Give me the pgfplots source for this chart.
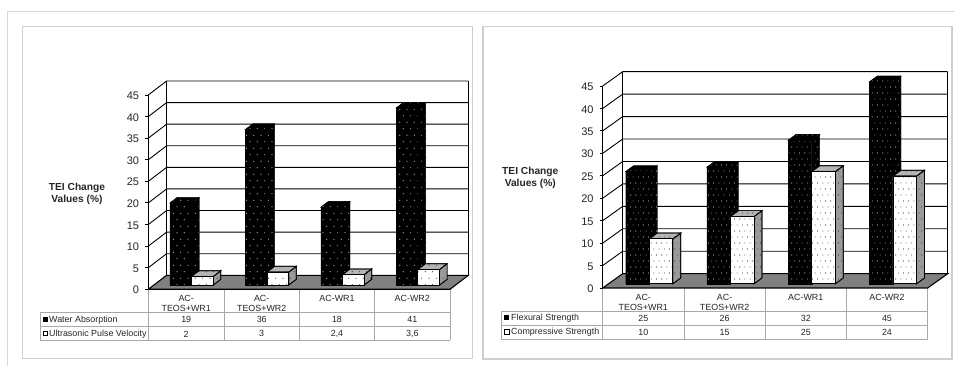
\documentclass[border=0pt]{standalone}
\usepackage{fontspec}
\setmainfont{Liberation Sans}
\usepackage{pgfplots}
\pgfplotsset{compat=1.18}
\usetikzlibrary{patterns}

% Staggered dot fills for the bar faces, one spacing for each chart
\pgfdeclarepatternformonly{dots wide}{\pgfqpoint{-1bp}{-1bp}}{\pgfqpoint{8.3bp}{14bp}}{\pgfqpoint{7.3bp}{13bp}}{%
  \pgfpathcircle{\pgfqpoint{1.8bp}{3.25bp}}{0.6bp}%
  \pgfpathcircle{\pgfqpoint{5.5bp}{9.75bp}}{0.6bp}%
  \pgfusepath{fill}}
\pgfdeclarepatternformonly{dots close}{\pgfqpoint{-1bp}{-1bp}}{\pgfqpoint{6.2bp}{13bp}}{\pgfqpoint{5.2bp}{12bp}}{%
  \pgfpathcircle{\pgfqpoint{1.3bp}{3bp}}{0.55bp}%
  \pgfpathcircle{\pgfqpoint{3.9bp}{9bp}}{0.55bp}%
  \pgfusepath{fill}}

\definecolor{floorgray}{HTML}{808080}
\definecolor{sidegray}{HTML}{9A9A9A}
\definecolor{topgray}{HTML}{B4B4B4}
\definecolor{framegray}{HTML}{CFCFCF}
\definecolor{rulegray}{HTML}{A8A8A8}
\definecolor{textgray}{HTML}{262626}

\tikzset{
  dotted face/.style={pattern=dots wide},
  darkface/.style={draw=black,fill=black,postaction={dotted face,pattern color=black!30}},
  whitefront/.style={draw=black,line width=0.9bp,fill=white,postaction={dotted face,pattern color=black!75}},
  whiteside/.style={draw=black,line width=0.7bp,fill=sidegray,postaction={dotted face,pattern color=black!75}},
  whitetop/.style={draw=black,line width=0.7bp,fill=topgray,postaction={dotted face,pattern color=black!75}},
}

% Right and top faces of one bar: style side, style top, left x, right x, value
\newcommand\BarFaces[5]{%
  \pgfmathsetmacro\xa{#3}\pgfmathsetmacro\xb{#4}%
  \pgfmathsetmacro\xc{#4+\bardx}\pgfmathsetmacro\xd{#3+\bardx}%
  \pgfmathsetmacro\yt{#5+\bardy}\pgfmathsetmacro\ye{\bardy}%
  \addplot[#1] coordinates {(\xb,0) (\xc,\ye) (\xc,\yt) (\xb,#5)} -- cycle;
  \addplot[#2] coordinates {(\xa,#5) (\xb,#5) (\xc,\yt) (\xd,\yt)} -- cycle;
}

% Walls, floor and grid of the box: depth in axis units as macros \walldx, \walldy
\newcommand\GridLine[1]{%
  \pgfmathsetmacro\ya{#1+\walldy}%
  \addplot[black,line width=0.9bp] coordinates {(-0.5,#1) (\wx,\ya) (\wr,\ya)};
}
\newcommand\BoxWalls{%
  \pgfmathsetmacro\wx{-0.5+\walldx}\pgfmathsetmacro\wr{3.5+\walldx}%
  \pgfmathsetmacro\wt{45+\walldy}%
  \addplot[draw=none,fill=floorgray] coordinates {(-0.5,0) (3.5,0) (\wr,\walldy) (\wx,\walldy)} -- cycle;
  \GridLine{5}\GridLine{10}\GridLine{15}\GridLine{20}\GridLine{25}
  \GridLine{30}\GridLine{35}\GridLine{40}\GridLine{45}
  \addplot[black,line width=0.9bp] coordinates {(\wx,\walldy) (\wx,\wt)};
  \addplot[black,line width=0.9bp] coordinates {(\wr,\walldy) (\wr,\wt)};
  \addplot[black,line width=1.1bp] coordinates {(-0.5,0) (3.5,0) (\wr,\walldy) (\wx,\walldy) (-0.5,0)};
}

\pgfplotsset{
  boxaxis/.style={
    scale only axis,clip=false,anchor=south west,
    xmin=-0.5,xmax=3.5,ymin=0,ymax=45,
  },
  wallaxis/.style={
    boxaxis,
    axis x line=none,axis y line*=left,axis line style={-,black,line width=0.9bp},
    xtick=\empty,ytick={0,5,...,45},
    tick style={black,line width=0.9bp},tick align=outside,major tick length=3bp,
    /pgf/number format/assume math mode=true,
    yticklabel style={font=\fontsize{11bp}{12bp}\selectfont,text=textgray,inner xsep=0pt,xshift=-6bp,yshift=-0.8bp},
  },
}

\newcommand\TableText[4][center]{\node[font=\fontsize{8.9bp}{10bp}\selectfont,text=textgray,anchor=#1,inner sep=0pt,yshift=-0.6bp] at (#2,#3) {#4};}
\newcommand\TitleText[3]{\node[font=\fontsize{10.2bp}{12bp}\selectfont\bfseries,text=textgray,yshift=-0.5bp] at (#1,#2) {#3};}

\begin{document}
\begin{tikzpicture}
\useasboundingbox (0,0) rectangle (955bp,366bp);
\fill[white] (0,0) rectangle (955bp,366bp);

\begin{scope}[x=1bp,y=-1bp,shift={(0bp,366bp)}]
  % Page rule and panel frames
  \draw[framegray!80,line width=0.9bp] (955,11.5) -- (7.5,11.5) -- (7.5,366);
  \draw[framegray,line width=1.1bp] (22.5,26.5) rectangle (472.5,358.5);
  \draw[framegray,line width=1.1bp] (483,26.5) rectangle (952,359);

  % Data table under the first chart
  \foreach \y in {312.3,326.7,340.3} \draw[rulegray,line width=0.8bp] (40,\y) -- (450,\y);
  \draw[rulegray,line width=0.8bp] (40,312.3) -- (40,340.3);
  \foreach \x in {148.3,224,299.3,374.7,450} \draw[rulegray,line width=0.8bp] (\x,289.3) -- (\x,340.3);
  \TableText{186.2}{297.7}{AC-}
  \TableText{186.2}{307.7}{TEOS+WR1}
  \TableText{261.7}{297.7}{AC-}
  \TableText{261.7}{307.7}{TEOS+WR2}
  \TableText{337}{297.7}{AC-WR1}
  \TableText{412.3}{297.7}{AC-WR2}
  \fill[black] (43.2,316.8) rectangle (48,321.6);
  \draw[black,line width=0.9bp,fill=white] (43.6,331) rectangle (47.8,335.4);
  \TableText[west]{49}{319.2}{Water Absorption}
  \TableText[west]{49}{333.2}{Ultrasonic Pulse Velocity}
  \TableText{186.2}{319.3}{19} \TableText{261.7}{319.3}{36} \TableText{337}{319.3}{18} \TableText{412.3}{319.3}{41}
  \TableText{186.2}{333.3}{2} \TableText{261.7}{333.3}{3} \TableText{337}{333.3}{2,4} \TableText{412.3}{333.3}{3,6}
  \TitleText{77}{187.7}{TEI Change}
  \TitleText{77}{199.3}{Values (\%)}

  % Data table under the second chart
  \foreach \y in {311,325.3,339.3} \draw[rulegray,line width=0.8bp] (501.3,\y) -- (927.7,\y);
  \draw[rulegray,line width=0.8bp] (501.3,311) -- (501.3,339.3);
  \foreach \x in {602.7,684,765.3,846.3,927.7} \draw[rulegray,line width=0.8bp] (\x,288) -- (\x,339.3);
  \TableText{643.3}{296.7}{AC-}
  \TableText{643.3}{306.7}{TEOS+WR1}
  \TableText{724.6}{296.7}{AC-}
  \TableText{724.6}{306.7}{TEOS+WR2}
  \TableText{805.8}{296.7}{AC-WR1}
  \TableText{887}{296.7}{AC-WR2}
  \fill[black] (504.4,315.4) rectangle (509.4,320.2);
  \draw[black,line width=0.9bp,fill=white] (504.8,329.8) rectangle (509,334);
  \TableText[west]{511}{317.6}{Flexural Strength}
  \TableText[west]{511}{331.9}{Compressive Strength}
  \TableText{643.3}{317.7}{25} \TableText{724.6}{317.7}{26} \TableText{805.8}{317.7}{32} \TableText{887}{317.7}{45}
  \TableText{643.3}{332}{10} \TableText{724.6}{332}{15} \TableText{805.8}{332}{25} \TableText{887}{332}{24}
  \TitleText{530.3}{171}{TEI Change}
  \TitleText{530.3}{183}{Values (\%)}
\end{scope}

% First chart: box and value axis
\def\walldx{0.2427}\def\walldy{3.242}
\begin{axis}[wallaxis,at={(148.3bp,76.7bp)},width=301.7bp,height=194.3bp]
  \BoxWalls
\end{axis}
% First chart: bars, standing a little behind the front edge
\def\bardx{0.0995}\def\bardy{1.32}
\begin{axis}[boxaxis,hide axis,at={(153.9bp,81bp)},width=301.7bp,height=194.3bp]
  \BarFaces{darkface}{darkface}{-0.288}{0}{19}
  \BarFaces{darkface}{darkface}{0.712}{1}{36}
  \BarFaces{darkface}{darkface}{1.712}{2}{18}
  \BarFaces{darkface}{darkface}{2.712}{3}{41}
  \addplot[ybar,bar width=21.7bp,bar shift=-10.85bp,darkface] coordinates {(0,19) (1,36) (2,18) (3,41)};
  \BarFaces{whiteside}{whitetop}{0}{0.288}{2}
  \BarFaces{whiteside}{whitetop}{1}{1.288}{3}
  \BarFaces{whiteside}{whitetop}{2}{2.288}{2.4}
  \BarFaces{whiteside}{whitetop}{3}{3.288}{3.6}
  \addplot[ybar,bar width=21.7bp,bar shift=10.85bp,whitefront] coordinates {(0,2) (1,3) (2,2.4) (3,3.6)};
\end{axis}

% Second chart: box and value axis
\def\walldx{0.2462}\def\walldy{3.19}
\begin{axis}[wallaxis,at={(602.7bp,78bp)},width=325bp,height=202bp]
  \BoxWalls
\end{axis}
% Second chart: bars, with the closer dot spacing
\tikzset{dotted face/.style={pattern=dots close}}
\def\bardx{0.0985}\def\bardy{1.3}
\begin{axis}[boxaxis,hide axis,at={(608.6bp,82.2bp)},width=325bp,height=202bp]
  \BarFaces{darkface}{darkface}{-0.29}{0}{25}
  \BarFaces{darkface}{darkface}{0.71}{1}{26}
  \BarFaces{darkface}{darkface}{1.71}{2}{32}
  \BarFaces{darkface}{darkface}{2.71}{3}{45}
  \addplot[ybar,bar width=23.5bp,bar shift=-11.75bp,darkface] coordinates {(0,25) (1,26) (2,32) (3,45)};
  \BarFaces{whiteside}{whitetop}{0}{0.29}{10}
  \BarFaces{whiteside}{whitetop}{1}{1.29}{15}
  \BarFaces{whiteside}{whitetop}{2}{2.29}{25}
  \BarFaces{whiteside}{whitetop}{3}{3.29}{24}
  \addplot[ybar,bar width=23.5bp,bar shift=11.75bp,whitefront] coordinates {(0,10) (1,15) (2,25) (3,24)};
\end{axis}
\end{tikzpicture}
\end{document}
